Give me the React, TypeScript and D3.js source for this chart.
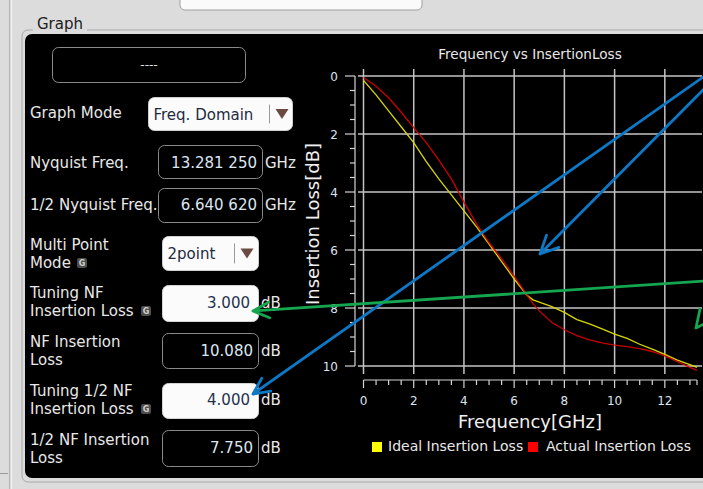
import React from 'react';
import * as d3 from 'd3';

// chart values
const freqs = [0, 0.5, 1, 1.5, 2, 2.5, 3, 3.5, 4, 4.5, 5, 5.5, 6, 6.5, 6.75, 7, 7.5, 8, 8.5, 9, 9.5, 10, 10.5, 11, 11.5, 12, 12.5, 13, 13.28];
const idealLoss = [0.15, 0.65, 1.2, 1.75, 2.3, 2.95, 3.55, 4.1, 4.65, 5.2, 5.8, 6.4, 7.0, 7.55, 7.72, 7.8, 7.95, 8.15, 8.4, 8.55, 8.72, 8.9, 9.05, 9.25, 9.42, 9.6, 9.8, 9.95, 10.05];
const actualLoss = [0.05, 0.35, 0.75, 1.25, 1.78, 2.3, 2.9, 3.55, 4.35, 5.1, 5.75, 6.3, 6.9, 7.55, 7.85, 8.1, 8.5, 8.75, 8.95, 9.1, 9.2, 9.28, 9.33, 9.4, 9.5, 9.65, 9.85, 10.05, 10.15];
const xTicks = [0, 2, 4, 6, 8, 10, 12];
const yTicks = [0, 2, 4, 6, 8, 10];
const seriesNames = ['Ideal Insertion Loss', 'Actual Insertion Loss'];
const seriesColors = ['#d8d800', '#e00000'];

// left panel fields
const fieldLabels = [
  ['Nyquist Freq.'],
  ['1/2 Nyquist Freq.'],
  ['Multi Point', 'Mode'],
  ['Tuning NF', 'Insertion Loss'],
  ['NF Insertion', 'Loss'],
  ['Tuning 1/2 NF', 'Insertion Loss'],
  ['1/2 NF Insertion', 'Loss'],
];
const fieldValues = ['13.281 250', '6.640 620', '2point', '3.000', '10.080', '4.000', '7.750'];
const fieldUnits = ['GHz', 'GHz', '', 'dB', 'dB', 'dB', 'dB'];

const FONT = '"DejaVu Sans", sans-serif';

const arrow = (x1: number, y1: number, x2: number, y2: number, len = 18, spread = 0.45) => {
  const a = Math.atan2(y1 - y2, x1 - x2);
  const w1 = [x2 + len * Math.cos(a + spread), y2 + len * Math.sin(a + spread)];
  const w2 = [x2 + len * Math.cos(a - spread), y2 + len * Math.sin(a - spread)];
  return `M${x1},${y1}L${x2},${y2}M${w1[0]},${w1[1]}L${x2},${y2}L${w2[0]},${w2[1]}`;
};

const Icon = ({ x, y }: { x: number; y: number }) => (
  <g>
    <rect x={x} y={y} width={10} height={10} rx={2} fill="#4d4d4d" />
    <text x={x + 5} y={y + 8} fontSize={8} fontWeight="bold" textAnchor="middle" fill="#d0d0d0" fontFamily={FONT}>G</text>
  </g>
);

const Combo = ({ x, y, w, h, text, sep }: { x: number; y: number; w: number; h: number; text: string; sep: number }) => (
  <g>
    <rect x={x} y={y} width={w} height={h} rx={6} fill="#fbfbfb" stroke="#cfcfcf" />
    <text x={x + 5} y={y + h / 2 + 5.5} fontSize={15} fill="#1e2a3e" fontFamily={FONT}>{text}</text>
    <line x1={sep} x2={sep} y1={y + 7} y2={y + h - 7} stroke="#9a9a9a" />
    <path d={`M${sep + 6},${y + h / 2 - 5}h13l-6.5,10z`} fill="#6b4a42" />
  </g>
);

export default function App() {
  const x = d3.scaleLinear().domain([0, 13.28125]).range([363.5, 697]);
  const y = d3.scaleLinear().domain([0, 10]).range([76, 366]);
  const line = d3.line<number>().x((_, i) => x(freqs[i])).y((d) => y(d));
  const xMinor = [...d3.range(0, 13.28, 0.5), 13.28125];
  const yMinor = d3.range(0, 10.01, 0.5);

  const boxes = [
    { x: 158, y: 145, w: 104, h: 33, white: false, right: 257, base: 168 },
    { x: 158, y: 188, w: 104, h: 34, white: false, right: 257, base: 210 },
    { x: 162, y: 236, w: 96, h: 34, white: true, right: 0, base: 258 },
    { x: 162, y: 285, w: 96, h: 36, white: true, right: 250, base: 308 },
    { x: 162, y: 333, w: 96, h: 35, white: false, right: 253, base: 356 },
    { x: 162, y: 383, w: 96, h: 35, white: true, right: 250, base: 405 },
    { x: 162, y: 430, w: 96, h: 36, white: false, right: 253, base: 453 },
  ];
  const labelBase = [[168], [210], [250, 268], [298, 316], [347, 365], [396, 414], [445, 463]];
  const icons = [null, null, [77, 258], [141, 306], null, [141, 404], null];

  return (
    <svg width={703} height={489} style={{ position: 'fixed', left: 0, top: 0 }} fontFamily={FONT}>
      <rect width={703} height={489} fill="#dcdcdc" />
      <line x1={9.5} x2={9.5} y1={0} y2={489} stroke="#b4b4b4" />
      <line x1={11.5} x2={11.5} y1={0} y2={489} stroke="#f2f2f2" />
      <line x1={0} x2={8} y1={473.5} y2={473.5} stroke="#9a9a9a" />
      <rect x={180} y={-6} width={242} height={16} rx={5} fill="#fafafa" stroke="#a0a0a0" />

      {/* group box */}
      <rect x={22} y={30} width={700} height={452} rx={6} fill="none" stroke="#a8a8a8" />
      <rect x={33} y={20} width={54} height={14} fill="#dcdcdc" />
      <text x={37} y={29} fontSize={15} fill="#202020">Graph</text>
      <rect x={25} y={34} width={690} height={444} rx={7} fill="#000" />

      {/* left panel */}
      <rect x={52.5} y={47.5} width={193} height={35} rx={6} fill="#000" stroke="#8a8a8a" />
      <text x={149} y={69} fontSize={12} textAnchor="middle" fill="#e0e0e0">----</text>
      <text x={30} y={118} fontSize={15} fill="#e8e8e8">Graph Mode</text>
      <Combo x={148.5} y={97.5} w={144} h={33} text="Freq. Domain" sep={269.5} />

      {fieldLabels.map((lines, i) => (
        <g key={i}>
          {lines.map((t, j) => (
            <text key={j} x={30} y={labelBase[i][j]} fontSize={15} fill="#e8e8e8">{t}</text>
          ))}
          {icons[i] && <Icon x={icons[i]![0]} y={icons[i]![1]} />}
          {i === 2 ? (
            <Combo x={boxes[i].x + 0.5} y={boxes[i].y + 0.5} w={boxes[i].w} h={boxes[i].h} text={fieldValues[i]} sep={234.5} />
          ) : (
            <g>
              <rect x={boxes[i].x + 0.5} y={boxes[i].y + 0.5} width={boxes[i].w} height={boxes[i].h} rx={6}
                fill={boxes[i].white ? '#fbfbfb' : '#000'} stroke={boxes[i].white ? '#d4d4d4' : '#8a8a8a'} />
              <text x={boxes[i].right} y={boxes[i].base} fontSize={15} textAnchor="end"
                fill={boxes[i].white ? '#22324e' : '#dce6f2'}>{fieldValues[i]}</text>
              <text x={boxes[i].x + boxes[i].w + 3} y={boxes[i].base} fontSize={15} fill="#e8e8e8">{fieldUnits[i]}</text>
            </g>
          )}
        </g>
      ))}

      {/* chart */}
      <text x={530} y={59} fontSize={13.6} textAnchor="middle" fill="#e8e8e8">Frequency vs InsertionLoss</text>
      {yTicks.map((t) => (
        <line key={'gy' + t} x1={358} x2={702} y1={y(t)} y2={y(t)} stroke="#c4c4c4" strokeWidth={1.5} />
      ))}
      {xTicks.map((t) => (
        <line key={'gx' + t} x1={x(t)} x2={x(t)} y1={69} y2={374} stroke="#c4c4c4" strokeWidth={1.5} />
      ))}

      {/* y axis */}
      <line x1={355} x2={355} y1={y(0)} y2={y(10)} stroke="#d4d4d4" strokeWidth={1.2} />
      {yMinor.map((t) => (
        <line key={'ym' + t} x1={t % 2 === 0 ? 345 : 350} x2={355} y1={y(t)} y2={y(t)} stroke="#d4d4d4" strokeWidth={1.2} />
      ))}
      {yTicks.map((t) => (
        <text key={'yl' + t} x={338} y={y(t) + 4.5} fontSize={12} textAnchor="end" fill="#dbe4ee">{t}</text>
      ))}
      <text transform={`translate(319,224) rotate(-90)`} fontSize={18} textAnchor="middle" fill="#f0f0f0">Insertion Loss[dB]</text>

      {/* x axis */}
      <line x1={x(0)} x2={x(13.28125)} y1={380} y2={380} stroke="#d4d4d4" strokeWidth={1.2} />
      {xMinor.map((t) => (
        <line key={'xm' + t} x1={x(t)} x2={x(t)} y1={380} y2={t % 2 === 0 ? 388 : 385} stroke="#d4d4d4" strokeWidth={1.2} />
      ))}
      {xTicks.map((t) => (
        <text key={'xl' + t} x={x(t)} y={405} fontSize={12} textAnchor="middle" fill="#dbe4ee">{t}</text>
      ))}
      <text x={530} y={428} fontSize={18} textAnchor="middle" fill="#f0f0f0">Frequency[GHz]</text>

      {/* series */}
      <path d={line(idealLoss) ?? ''} fill="none" stroke={seriesColors[0]} strokeWidth={1.3} />
      <path d={line(actualLoss) ?? ''} fill="none" stroke={seriesColors[1]} strokeWidth={1.3} opacity={0.9} />

      {/* legend */}
      <rect x={372} y={442} width={10} height={10} fill="#ffff00" />
      <text x={388} y={451} fontSize={14} fill="#e8e8e8">{seriesNames[0]}</text>
      <rect x={528} y={442} width={10} height={10} fill="#ff0000" />
      <text x={546} y={451} fontSize={14} fill="#e8e8e8">{seriesNames[1]}</text>

      {/* annotation arrows drawn over the screenshot */}
      <g fill="none" strokeWidth={2.8} strokeLinecap="round" strokeLinejoin="round">
        <path d={arrow(706, 75, 253, 394)} stroke="#0d78c6" />
        <path d={arrow(706, 87, 540, 254, 20)} stroke="#0d78c6" />
        <path d={arrow(706, 281, 253, 311)} stroke="#16a650" />
        <path d="M700,309L696,328L706,323" stroke="#16a650" />
      </g>
    </svg>
  );
}
